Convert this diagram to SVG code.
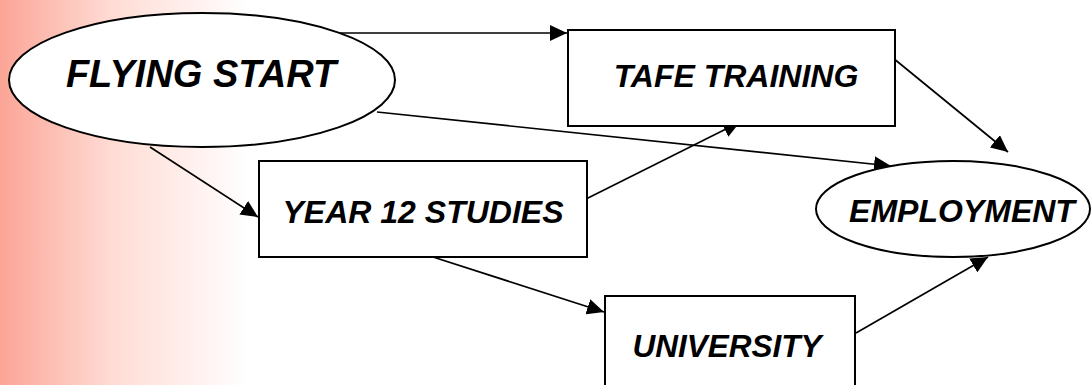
<svg xmlns="http://www.w3.org/2000/svg" width="1092" height="385" viewBox="0 0 1092 385">
<defs>
<linearGradient id="bg" x1="0" y1="0" x2="250" y2="0" gradientUnits="userSpaceOnUse">
<stop offset="0" stop-color="#FBA596"/>
<stop offset="0.45" stop-color="#FFDCD5"/>
<stop offset="1" stop-color="#FFFFFF"/>
</linearGradient>
<marker id="ah" viewBox="0 0 10 10" refX="10" refY="5" markerWidth="17" markerHeight="16" markerUnits="userSpaceOnUse" orient="auto" preserveAspectRatio="none">
<path d="M0,0 L10,5 L0,10 Z" fill="#000"/>
</marker>
<style>
.node{fill:#fff;stroke:#000;stroke-width:2}
.lbl{font-family:"Liberation Sans",Arial,sans-serif;font-weight:bold;font-style:italic;fill:#000}
.edge{stroke:#000;stroke-width:1.7;fill:none;marker-end:url(#ah)}
</style>
</defs>
<rect x="0" y="0" width="1092" height="385" fill="#fff"/>
<rect x="0" y="0" width="250" height="385" fill="url(#bg)"/>
<g id="connectors">
<line class="edge" x1="338" y1="33" x2="567" y2="33"/>
<line class="edge" x1="377" y1="112" x2="891" y2="166"/>
<line class="edge" x1="150" y1="147" x2="258" y2="217"/>
<line class="edge" x1="586" y1="199" x2="740" y2="122"/>
<line class="edge" x1="893" y1="58" x2="1008" y2="152"/>
<line class="edge" x1="433" y1="257" x2="604" y2="312"/>
<line class="edge" x1="856" y1="333" x2="988" y2="257"/>
</g>
<g id="flying-start">
<ellipse class="node" cx="202" cy="80" rx="193" ry="67"/>
<text class="lbl" x="201" y="87" font-size="38" text-anchor="middle">FLYING START</text>
</g>
<g id="tafe-training">
<rect class="node" x="568" y="30" width="327" height="96"/>
<text class="lbl" x="736" y="87" font-size="32" text-anchor="middle">TAFE TRAINING</text>
</g>
<g id="year-12-studies">
<rect class="node" x="259" y="161" width="328" height="96"/>
<text class="lbl" x="423" y="223" font-size="32" text-anchor="middle">YEAR 12 STUDIES</text>
</g>
<g id="university">
<rect class="node" x="605" y="296" width="250" height="95"/>
<text class="lbl" x="727" y="357" font-size="31.5" text-anchor="middle">UNIVERSITY</text>
</g>
<g id="employment">
<ellipse class="node" cx="953" cy="209" rx="137" ry="48"/>
<text class="lbl" x="962" y="222" font-size="32" text-anchor="middle">EMPLOYMENT</text>
</g>
</svg>
